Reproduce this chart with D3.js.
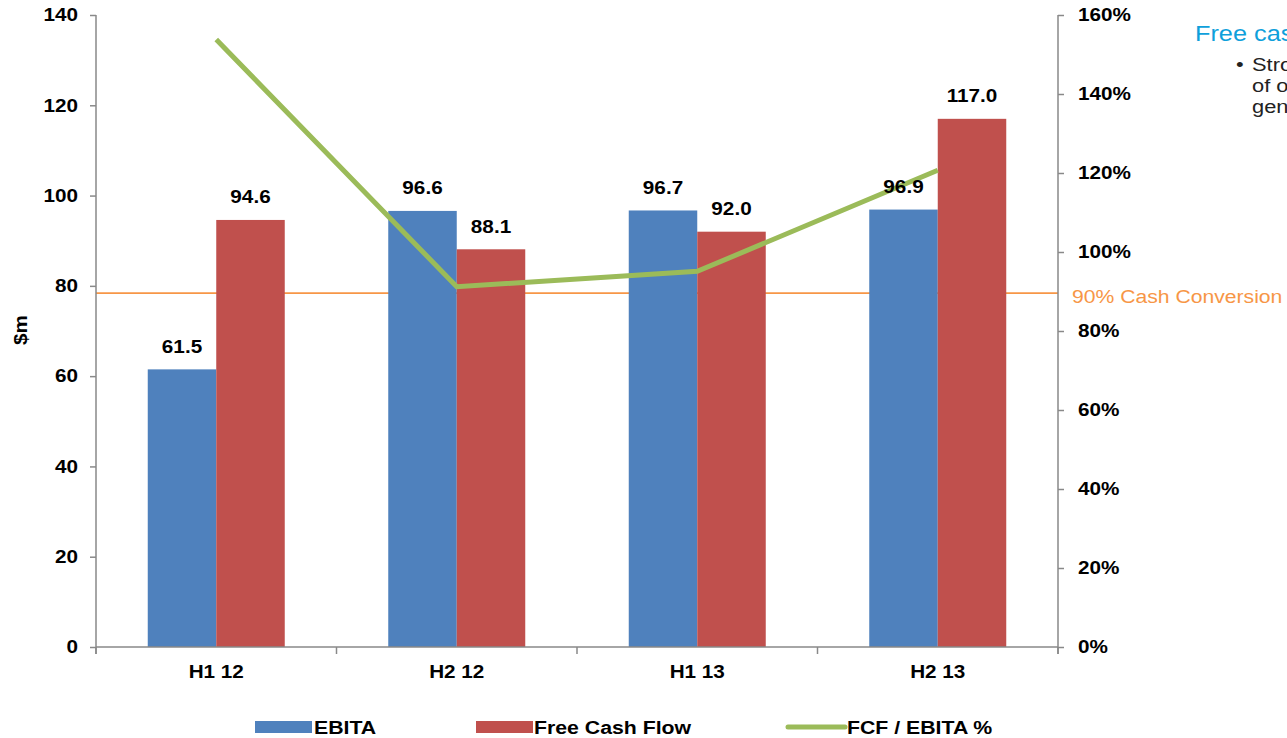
<!DOCTYPE html>
<html><head><meta charset="utf-8">
<script src="https://cdn.jsdelivr.net/npm/d3@7"></script>
<style>
html,body{margin:0;padding:0;background:#fff;overflow:hidden}
text{font-family:"Liberation Sans",Arial,sans-serif}
</style></head>
<body>
<svg id="c" width="1287" height="738"></svg>
<script>
const categories = ["H1 12","H2 12","H1 13","H2 13"];
const ebita = [61.5, 96.6, 96.7, 96.9];
const fcf = [94.6, 88.1, 92.0, 117.0];
const fcfPct = [153.8, 91.2, 95.1, 120.7];
const leftTicks = [0,20,40,60,80,100,120,140];
const rightTicks = [0,20,40,60,80,100,120,140,160];
const conversionLevel = 89.6;
const conversionLabel = "90% Cash Conversion";
const seriesNames = ["EBITA","Free Cash Flow","FCF / EBITA %"];
const sideTitle = "Free cash flow";
const sideBullet = ["Strong conversion", "of operating profit", "generation"];

const SX = 1.15;
const C = {blue:"#4F81BD", red:"#C0504D", green:"#9BBB59", orange:"#F79646", axis:"#898989"};
const svg = d3.select("#c");
const L = 96, R = 1058, T = 15, B = 647;

const x = d3.scaleBand().domain(categories).range([L, R]).padding(0);
const yL = d3.scaleLinear().domain([0,140]).range([B, T]);
const yR = d3.scaleLinear().domain([0,160]).range([B, T]);
const barW = 68.5;
const groupOff = (x.bandwidth() - 2*barW)/2;

function txt(sel, px, py, s, o={}) {
  return sel.append("text")
    .attr("transform", `translate(${px},${py}) scale(${o.sx||SX},1)`)
    .attr("text-anchor", o.anchor||"start")
    .attr("font-size", o.size||18)
    .attr("font-weight", o.weight||"bold")
    .attr("fill", o.fill||"#000")
    .text(s);
}

// 90% reference line (behind bars)
svg.append("line").attr("x1", L).attr("x2", R)
  .attr("y1", yR(conversionLevel)).attr("y2", yR(conversionLevel))
  .attr("stroke", C.orange).attr("stroke-width", 1.8);

// Bars
const gBars = svg.append("g");
gBars.selectAll("rect.e").data(categories).join("rect")
  .attr("x", d => x(d) + groupOff).attr("width", barW)
  .attr("y", (d,i) => yL(ebita[i])).attr("height", (d,i) => B - yL(ebita[i]))
  .attr("fill", C.blue);
gBars.selectAll("rect.f").data(categories).join("rect").attr("class","f")
  .attr("x", d => x(d) + groupOff + barW).attr("width", barW)
  .attr("y", (d,i) => yL(fcf[i])).attr("height", (d,i) => B - yL(fcf[i]))
  .attr("fill", C.red);

// Left axis
const axL = svg.append("g").attr("transform", `translate(${L},0)`)
  .call(d3.axisLeft(yL).tickValues(leftTicks).tickSize(6));
// Right axis
const axR = svg.append("g").attr("transform", `translate(${R},0)`)
  .call(d3.axisRight(yR).tickValues(rightTicks).tickSize(6).tickFormat(d => d + "%"));
[axL, axR].forEach(g => {
  g.attr("font-family", null).attr("font-size", null);
  g.selectAll("path,line").attr("stroke", C.axis).attr("stroke-width", 1.5);
  g.select(".domain").attr("d", `M0,${T}V${B+7}`);
});
axL.selectAll("text").attr("x", 0).attr("font-size", 18).attr("font-weight", "bold").attr("fill", "#000")
  .attr("transform", `translate(-18,0) scale(${SX},1)`);
axR.selectAll("text").attr("x", 0).attr("font-size", 18).attr("font-weight", "bold").attr("fill", "#000")
  .attr("transform", `translate(20,0) scale(${SX},1)`);

// Bottom axis
const axB = svg.append("g").attr("transform", `translate(0,${B})`)
  .call(d3.axisBottom(x).tickSize(0).tickPadding(0));
axB.attr("font-family", null).attr("font-size", null);
axB.select(".domain").attr("d", `M${L},0H${R}`).attr("stroke", C.axis).attr("stroke-width", 1.5);
axB.selectAll("text").attr("y", 0).attr("dy", null).attr("font-size", 18).attr("font-weight", "bold").attr("fill", "#000")
  .attr("transform", `translate(0,31) scale(${SX},1)`);
const bounds = categories.map(c => x(c)).concat([x.range()[1]]);
svg.append("g").selectAll("line").data(bounds).join("line")
  .attr("x1", d => d).attr("x2", d => d).attr("y1", B).attr("y2", B + 7)
  .attr("stroke", C.axis).attr("stroke-width", 1.5);

// Green ratio line
const line = d3.line().x((d,i) => x(categories[i]) + x.bandwidth()/2).y(d => yR(d));
svg.append("path").datum(fcfPct).attr("d", line)
  .attr("fill", "none").attr("stroke", C.green).attr("stroke-width", 5);

// Data labels
const gLab = svg.append("g");
categories.forEach((c,i) => {
  txt(gLab, x(c) + groupOff + barW/2, yL(ebita[i]) - 16.5, ebita[i].toFixed(1), {anchor:"middle", size:18.5, sx:1.12});
  txt(gLab, x(c) + groupOff + barW*1.5, yL(fcf[i]) - 16.5, fcf[i].toFixed(1), {anchor:"middle", size:18.5, sx:1.12});
});

// Y title
svg.append("text").attr("transform", `translate(27,330) rotate(-90) scale(${SX},1)`)
  .attr("text-anchor", "middle").attr("font-size", 18).attr("font-weight", "bold").text("$m");

// 90% label
txt(svg, 1072, yR(conversionLevel) + 10, conversionLabel, {size:18.4, weight:"normal", fill:C.orange});

// Side text
txt(svg, 1195, 41, sideTitle, {size:22, weight:"normal", fill:"#0EA0DB"});
txt(svg, 1236, 71, "\u2022", {size:19, weight:"normal", fill:"#222"});
sideBullet.forEach((s,i) => txt(svg, 1252, 71 + i*21, s, {size:19, weight:"normal", fill:"#222"}));

// Legend
const lg = svg.append("g");
const ly = 727;
lg.append("rect").attr("x", 255).attr("y", ly-6).attr("width", 57).attr("height", 12).attr("fill", C.blue);
txt(lg, 314, ly + 6.5, seriesNames[0], {size:18.5});
lg.append("rect").attr("x", 476).attr("y", ly-6).attr("width", 57).attr("height", 12).attr("fill", C.red);
txt(lg, 534, ly + 6.5, seriesNames[1], {size:18.5});
lg.append("line").attr("x1", 788).attr("x2", 845).attr("y1", ly).attr("y2", ly)
  .attr("stroke", C.green).attr("stroke-width", 5).attr("stroke-linecap", "round");
txt(lg, 847, ly + 6.5, seriesNames[2], {size:18.5});
</script>
</body></html>
